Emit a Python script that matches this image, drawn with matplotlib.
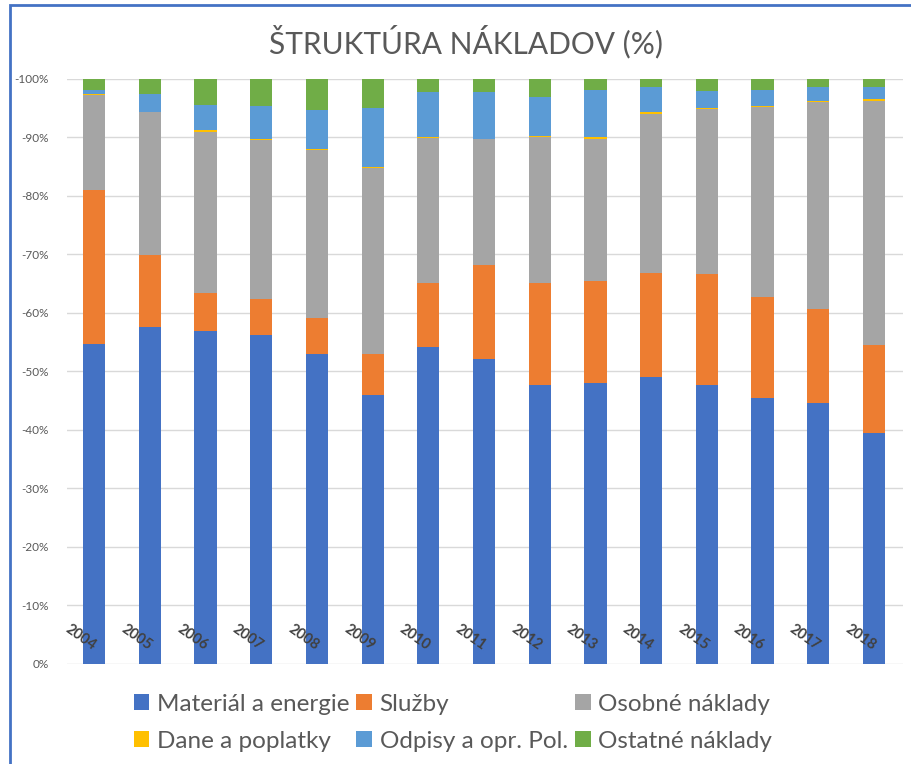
import numpy as np
import matplotlib
matplotlib.use('Agg')
import matplotlib.pyplot as plt
from matplotlib.patches import Rectangle

plt.rcParams['font.family'] = ['Lato', 'DejaVu Sans']

years = ['2004', '2005', '2006', '2007', '2008', '2009', '2010', '2011',
         '2012', '2013', '2014', '2015', '2016', '2017', '2018']

# shares of costs in %
material = [54.7, 57.6, 56.9, 56.2, 53.0, 46.0, 54.2, 52.1, 47.7, 48.0, 49.1, 47.7, 45.5, 44.6, 39.5]
sluzby = [26.3, 12.3, 6.6, 6.2, 6.1, 7.0, 11.0, 16.1, 17.5, 17.5, 17.7, 19.0, 17.3, 16.1, 15.0]
osobne = [16.3, 24.4, 27.5, 27.1, 28.8, 31.8, 24.7, 21.5, 24.9, 24.3, 27.3, 28.1, 32.4, 35.4, 41.8]
dane = [0.1, 0.1, 0.2, 0.2, 0.1, 0.1, 0.1, 0.1, 0.2, 0.2, 0.2, 0.2, 0.2, 0.2, 0.2]
odpisy = [0.8, 3.0, 4.4, 5.6, 6.7, 10.1, 7.8, 7.9, 6.6, 8.1, 4.4, 2.9, 2.8, 2.4, 2.2]
ostatne = [1.8, 2.6, 4.4, 4.7, 5.3, 5.0, 2.2, 2.3, 3.1, 1.9, 1.3, 2.1, 1.8, 1.3, 1.3]

series = [
    ('Materiál a energie', material, '#4472C4'),
    ('Služby', sluzby, '#ED7D31'),
    ('Osobné náklady', osobne, '#A5A5A5'),
    ('Dane a poplatky', dane, '#FFC000'),
    ('Odpisy a opr. Pol.', odpisy, '#5B9BD5'),
    ('Ostatné náklady', ostatne, '#70AD47'),
]

txt = '#595959'

fig = plt.figure(figsize=(9.11, 7.64), dpi=100)
ax = fig.add_axes([0.0735, 0.1309, 0.9175, 0.7657])

x = np.arange(len(years))
bottom = np.zeros(len(years))
handles = []
for name, vals, col in series:
    b = ax.bar(x, vals, 0.4, bottom=bottom, color=col, label=name, zorder=3)
    handles.append(b)
    bottom += np.array(vals)

ax.set_xlim(-0.49, 14.52)
ax.set_ylim(0, 100)
ax.set_yticks(np.arange(0, 101, 10))
ax.set_yticklabels(['0%'] + ['-%d%%' % v for v in range(10, 101, 10)])
ax.tick_params(axis='y', length=0, labelsize=8.5, labelcolor=txt, pad=13)
ax.set_xticks([])
ax.grid(axis='y', color='#D9D9D9', lw=1, zorder=0)
for s in ax.spines.values():
    s.set_visible(False)

# year labels sit inside the plot, over the bars
for i, yr in enumerate(years):
    ax.text(i - 0.24, 4.5, yr, rotation=-35, ha='center', va='center',
            fontsize=10.5, color='#404040', fontweight='bold', zorder=4)

fig.text(0.511, 0.945, 'ŠTRUKTÚRA NÁKLADOV (%)', ha='center', va='center',
         fontsize=21.5, color=txt)

# row-wise legend order for ncol=3
order = [0, 3, 1, 4, 2, 5]
leg = fig.legend([handles[i] for i in order], [series[i][0] for i in order],
                 ncol=3, loc='center', bbox_to_anchor=(0.497, 0.054),
                 frameon=False, fontsize=17.5, handlelength=0.65, handleheight=0.65,
                 handletextpad=0.3, columnspacing=0.3, labelspacing=0.65)
for t in leg.get_texts():
    t.set_color(txt)

# blue frame around the image
fig.patches.append(Rectangle((10 / 911, -0.05), 1.2, 1.05 - 5 / 764, transform=fig.transFigure,
                             fill=False, edgecolor='#4472C4', lw=2))

fig.savefig('out.png', dpi=100)
